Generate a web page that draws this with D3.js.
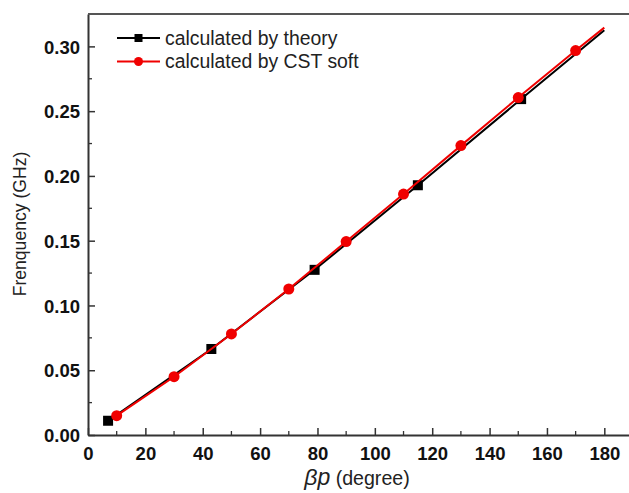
<!DOCTYPE html>
<html lang="en">
<head>
  <meta charset="UTF-8">
  <script src="https://cdnjs.cloudflare.com/ajax/libs/d3/7.8.5/d3.min.js"></script>
  <title>Dispersion curve</title>
  <style>
    body { margin: 0; background: #fff; }
    text { font-family: "Liberation Sans", Arial, sans-serif; }
  </style>
</head>
<body>
  <div id="chart"></div>
  <script>
    // theory curve (marker only on the first five points)
    const theoryX = [7, 43, 79, 115, 151, 180];
    const theoryY = [0.011, 0.0664, 0.1275, 0.1928, 0.2593, 0.3125];
    const theoryMarked = [true, true, true, true, true, false];

    // CST simulation
    const cstX = [10, 30, 50, 70, 90, 110, 130, 150, 170, 180];
    const cstY = [0.0149, 0.045, 0.078, 0.1127, 0.1493, 0.186, 0.2234, 0.2605, 0.2968, 0.3145];
    const cstMarked = [true, true, true, true, true, true, true, true, true, false];

    const xTicks = [0, 20, 40, 60, 80, 100, 120, 140, 160, 180];
    const yTicks = [0.00, 0.05, 0.10, 0.15, 0.20, 0.25, 0.30];

    const W = 629, H = 493;
    const margin = { top: 14, right: -4, bottom: 58, left: 88 };
    const width = W - margin.left - margin.right;
    const height = H - margin.top - margin.bottom;

    const svg = d3.select('#chart')
      .append('svg')
      .attr('width', W)
      .attr('height', H);

    const g = svg.append('g')
      .attr('transform', `translate(${margin.left}, ${margin.top})`);

    const x = d3.scaleLinear().domain([0, 190]).range([0, width]);
    const y = d3.scaleLinear().domain([0, 0.325]).range([height, 0]);

    const axisColor = '#333';

    // minor ticks
    const xMinor = d3.range(10, 190, 20);
    const yMinor = d3.range(0.025, 0.325, 0.05);

    g.selectAll('.xminor').data(xMinor).enter().append('line')
      .attr('x1', d => x(d)).attr('x2', d => x(d))
      .attr('y1', height).attr('y2', height - 4)
      .attr('stroke', axisColor).attr('stroke-width', 1.3);
    g.selectAll('.yminor').data(yMinor).enter().append('line')
      .attr('x1', 0).attr('x2', 4)
      .attr('y1', d => y(d)).attr('y2', d => y(d))
      .attr('stroke', axisColor).attr('stroke-width', 1.3);

    // major axes, ticks pointing inward
    const xAxis = g.append('g')
      .attr('transform', `translate(0, ${height})`)
      .call(d3.axisBottom(x).tickValues(xTicks).tickSizeInner(-7).tickSizeOuter(0).tickPadding(12));
    const yAxis = g.append('g')
      .call(d3.axisLeft(y).tickValues(yTicks).tickFormat(d3.format('.2f')).tickSizeInner(-7).tickSizeOuter(0).tickPadding(8));

    [xAxis, yAxis].forEach(a => {
      a.select('.domain').attr('stroke', axisColor).attr('stroke-width', 2);
      a.selectAll('.tick line').attr('stroke', axisColor).attr('stroke-width', 1.5);
      a.selectAll('text')
        .attr('fill', '#111')
        .style('font-size', '18.5px')
        .style('font-weight', 'bold')
        .style('font-family', '"Liberation Sans", Arial, sans-serif');
    });
    yAxis.selectAll('text').attr('dy', '0.36em');
    xAxis.selectAll('text').attr('dy', '0.71em').attr('y', 12);

    // top border
    g.append('line')
      .attr('x1', 0).attr('x2', width)
      .attr('y1', 0).attr('y2', 0)
      .attr('stroke', '#555').attr('stroke-width', 2);

    const line = d3.line().x(d => x(d[0])).y(d => y(d[1]));

    const theory = theoryX.map((v, i) => [v, theoryY[i], theoryMarked[i]]);
    const cst = cstX.map((v, i) => [v, cstY[i], cstMarked[i]]);

    g.append('path').datum(theory)
      .attr('d', line).attr('fill', 'none')
      .attr('stroke', '#000').attr('stroke-width', 2);
    g.selectAll('.sq').data(theory.filter(d => d[2])).enter().append('rect')
      .attr('x', d => x(d[0]) - 5).attr('y', d => y(d[1]) - 5)
      .attr('width', 10).attr('height', 10)
      .attr('fill', '#000');

    g.append('path').datum(cst)
      .attr('d', line).attr('fill', 'none')
      .attr('stroke', '#f00000').attr('stroke-width', 2);
    g.selectAll('.dot').data(cst.filter(d => d[2])).enter().append('circle')
      .attr('cx', d => x(d[0])).attr('cy', d => y(d[1]))
      .attr('r', 5.5)
      .attr('fill', '#f00000');

    // legend
    const legend = svg.append('g').attr('transform', 'translate(117, 38)');
    const items = [
      { label: 'calculated by theory', color: '#000', shape: 'square' },
      { label: 'calculated by CST soft', color: '#f00000', shape: 'circle' }
    ];
    items.forEach((it, i) => {
      const row = legend.append('g').attr('transform', `translate(0, ${i * 23.5})`);
      row.append('line').attr('x1', 0).attr('x2', 43).attr('y1', 0).attr('y2', 0)
        .attr('stroke', it.color).attr('stroke-width', 2);
      if (it.shape === 'square') {
        row.append('rect').attr('x', 17.5).attr('y', -4).attr('width', 8).attr('height', 8).attr('fill', it.color);
      } else {
        row.append('circle').attr('cx', 21.5).attr('cy', 0).attr('r', 4.5).attr('fill', it.color);
      }
      row.append('text').attr('x', 48).attr('y', 0).attr('dy', '0.35em')
        .style('font-size', '19.4px').attr('fill', '#222').text(it.label);
    });

    // axis titles
    svg.append('text')
      .attr('transform', 'translate(26, 224) rotate(-90)')
      .attr('text-anchor', 'middle')
      .style('font-size', '17.6px')
      .attr('fill', '#222')
      .text('Frenquency (GHz)');

    const xt = svg.append('text')
      .attr('x', 357).attr('y', 485)
      .attr('text-anchor', 'middle')
      .attr('fill', '#222');
    xt.append('tspan').style('font-style', 'italic').style('font-size', '23px').text('βp');
    xt.append('tspan').style('font-size', '19.6px').text(' (degree)');
  </script>
</body>
</html>
